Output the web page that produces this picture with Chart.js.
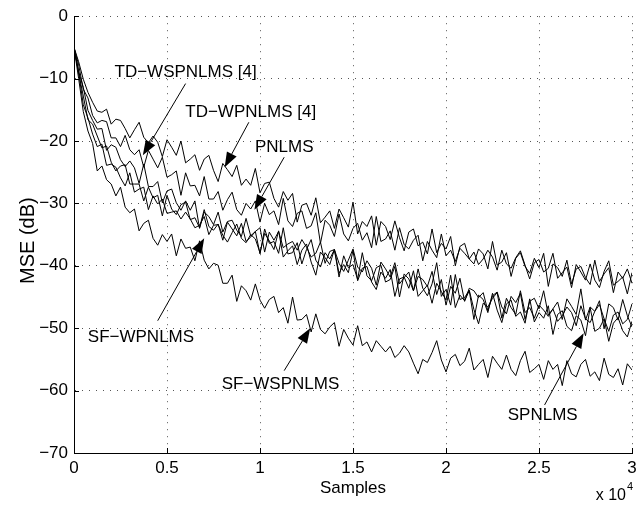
<!DOCTYPE html>
<html>
<head>
<meta charset="utf-8">
<script src="https://cdn.jsdelivr.net/npm/chart.js@4.4.1/dist/chart.umd.min.js"></script>
<style>
  html, body { margin: 0; padding: 0; background: #fff; }
  #wrap { width: 643px; height: 506px; }
</style>
</head>
<body>
<div id="wrap"><canvas id="mseChart" width="643" height="506"></canvas></div>
<script>
// Sample index (x axis)
const samples = [0,250,500,750,1000,1250,1500,1750,2000,2250,
  2500,2750,3000,3250,3500,3750,4000,4250,4500,4750,
  5000,5250,5500,5750,6000,6250,6500,6750,7000,7250,
  7500,7750,8000,8250,8500,8750,9000,9250,9500,9750,
  10000,10250,10500,10750,11000,11250,11500,11750,12000,12250,
  12500,12750,13000,13250,13500,13750,14000,14250,14500,14750,
  15000,15250,15500,15750,16000,16250,16500,16750,17000,17250,
  17500,17750,18000,18250,18500,18750,19000,19250,19500,19750,
  20000,20250,20500,20750,21000,21250,21500,21750,22000,22250,
  22500,22750,23000,23250,23500,23750,24000,24250,24500,24750,
  25000,25250,25500,25750,26000,26250,26500,26750,27000,27250,
  27500,27750,28000,28250,28500,28750,29000,29250,29500,29750,
  30000];

// MSE curves (dB)
const tdWpnlms = [-5.0,-7.3,-10.1,-12.2,-13.8,-15.2,-15.4,-14.9,-17.3,-16.5,
  -16.7,-18.0,-19.5,-18.2,-17.0,-19.4,-20.3,-19.2,-20.2,-22.5,
  -19.8,-21.0,-22.3,-20.0,-23.5,-22.9,-22.2,-24.7,-22.9,-22.3,
  -24.7,-26.5,-23.6,-24.6,-25.7,-23.9,-27.1,-26.1,-27.1,-24.4,
  -28.3,-26.8,-26.6,-29.2,-30.6,-28.1,-29.5,-28.4,-33.0,-30.3,
  -30.0,-31.9,-29.1,-33.1,-32.2,-31.2,-34.0,-30.9,-32.3,-33.8,
  -29.8,-34.9,-32.9,-33.7,-32.0,-36.7,-32.9,-33.7,-35.8,-32.8,
  -35.5,-37.6,-34.6,-34.1,-36.8,-36.2,-38.1,-34.1,-37.9,-36.4,
  -37.3,-35.3,-40.0,-36.9,-36.4,-38.9,-39.7,-37.3,-38.1,-40.5,
  -36.1,-39.9,-39.4,-37.9,-41.7,-38.8,-37.9,-40.1,-41.2,-38.8,
  -40.3,-38.0,-43.3,-39.7,-40.3,-41.7,-39.1,-42.9,-40.5,-40.1,
  -41.9,-43.0,-39.1,-42.5,-41.3,-40.3,-44.3,-41.0,-42.0,-40.5,
  -42.8];

const pnlms = [-5.0,-7.8,-11.7,-13.1,-15.9,-17.1,-16.7,-16.9,-19.5,-19.5,
  -20.9,-19.1,-21.4,-22.2,-21.4,-24.2,-21.5,-22.9,-24.3,-22.6,
  -25.8,-25.4,-24.8,-28.7,-25.1,-27.2,-27.1,-28.8,-25.7,-29.3,
  -29.3,-28.1,-31.1,-29.4,-28.2,-31.0,-31.9,-30.0,-30.9,-29.6,
  -33.0,-30.0,-31.8,-31.2,-33.4,-29.2,-32.8,-33.7,-31.6,-31.2,
  -34.0,-33.6,-31.5,-36.4,-32.7,-33.5,-35.3,-31.7,-34.9,-36.0,
  -34.0,-33.2,-35.9,-34.7,-37.1,-32.1,-36.1,-35.7,-34.4,-37.5,
  -33.9,-36.6,-37.3,-35.9,-35.1,-39.2,-36.1,-37.5,-38.7,-34.9,
  -38.4,-37.5,-39.3,-37.2,-38.0,-38.9,-37.8,-39.8,-38.9,-37.5,
  -38.6,-40.7,-37.5,-39.7,-40.4,-38.7,-37.6,-39.9,-42.1,-39.5,
  -39.0,-41.0,-40.4,-38.0,-42.0,-41.1,-40.2,-43.5,-39.8,-41.0,
  -42.3,-39.7,-42.3,-43.5,-40.9,-39.2,-43.1,-42.5,-41.8,-44.5,
  -41.1];

const tdWspnlms = [-5.0,-8.9,-11.4,-15.1,-16.7,-18.1,-18.0,-21.5,-20.6,-21.0,
  -23.0,-24.1,-23.2,-24.3,-26.8,-23.7,-27.3,-27.3,-26.5,-29.9,
  -28.0,-27.7,-29.9,-31.1,-29.6,-31.1,-29.6,-34.0,-31.4,-32.1,
  -33.4,-31.4,-34.6,-32.9,-32.7,-34.3,-35.3,-32.4,-35.2,-34.5,
  -33.9,-37.8,-34.6,-35.9,-34.5,-37.1,-36.5,-36.1,-37.5,-35.8,
  -37.0,-38.6,-38.0,-36.2,-39.6,-37.7,-37.4,-39.6,-40.9,-39.1,
  -37.3,-40.2,-41.0,-39.2,-40.4,-43.1,-39.4,-40.5,-41.8,-39.5,
  -42.9,-41.9,-41.0,-44.0,-41.7,-42.2,-43.3,-40.9,-44.6,-42.2,
  -46.3,-43.3,-44.4,-42.0,-45.7,-43.6,-44.0,-45.1,-44.3,-47.2,
  -44.8,-44.2,-46.6,-47.7,-44.9,-45.9,-44.4,-48.6,-45.7,-45.2,
  -46.9,-44.0,-47.9,-46.9,-45.8,-48.6,-45.3,-46.5,-47.8,-43.7,
  -48.7,-46.6,-47.3,-45.6,-50.1,-46.1,-46.7,-48.7,-45.4,-48.0,
  -49.8];

const spnlms = [-5.0,-9.1,-12.8,-16.6,-17.3,-19.2,-21.1,-20.8,-23.4,-24.8,
  -24.0,-23.8,-26.9,-26.9,-26.9,-29.6,-27.4,-29.1,-28.7,-32.0,
  -28.7,-30.9,-31.8,-30.2,-29.8,-32.6,-32.3,-33.9,-31.0,-33.7,
  -34.3,-33.3,-35.9,-33.0,-34.1,-35.2,-33.2,-36.1,-35.4,-34.5,
  -38.1,-34.1,-36.4,-36.1,-38.0,-33.9,-38.1,-37.9,-36.3,-39.7,
  -37.4,-35.8,-39.1,-40.2,-37.9,-38.9,-37.4,-41.8,-38.4,-40.3,
  -39.8,-42.2,-37.9,-41.6,-42.4,-40.3,-39.9,-42.6,-42.2,-40.1,
  -45.0,-41.3,-42.1,-44.0,-40.5,-43.6,-44.8,-42.9,-39.5,-44.9,
  -43.8,-46.3,-41.4,-45.4,-45.1,-43.9,-47.0,-49.3,-46.0,-46.6,
  -45.2,-44.3,-48.4,-45.2,-46.7,-47.8,-44.0,-47.5,-46.7,-48.4,
  -46.3,-47.1,-48.1,-46.9,-48.9,-48.0,-46.6,-47.5,-49.6,-46.4,
  -48.5,-49.1,-47.3,-46.2,-48.5,-50.5,-47.9,-47.4,-49.3,-48.6,
  -46.1];

const sfWpnlms = [-5.0,-9.0,-14.2,-16.3,-18.9,-20.9,-20.5,-23.9,-23.7,-24.2,
  -25.9,-27.2,-25.1,-28.2,-27.7,-27.4,-31.0,-28.8,-30.1,-29.3,
  -31.6,-31.4,-31.2,-32.5,-31.4,-32.5,-33.9,-33.5,-32.1,-35.0,
  -33.5,-33.4,-35.1,-36.2,-34.7,-33.3,-35.6,-36.3,-35.0,-35.7,
  -37.9,-34.8,-36.0,-37.4,-34.4,-38.6,-37.6,-36.8,-39.8,-37.5,
  -36.5,-39.4,-41.5,-37.8,-38.7,-39.8,-37.4,-41.2,-39.8,-41.1,
  -37.5,-42.4,-40.4,-40.1,-42.6,-43.8,-41.0,-42.0,-40.6,-44.9,
  -42.1,-41.8,-43.6,-40.8,-44.9,-44.0,-43.1,-46.0,-42.8,-44.1,
  -45.5,-41.5,-46.7,-44.7,-45.6,-44.0,-48.6,-44.7,-45.4,-47.5,
  -44.4,-47.1,-49.1,-46.1,-45.5,-48.1,-47.4,-49.2,-45.3,-49.0,
  -47.5,-48.4,-46.4,-51.0,-47.8,-47.2,-49.7,-50.4,-48.0,-48.7,
  -51.2,-46.7,-50.5,-50.0,-48.5,-52.1,-49.2,-48.3,-50.4,-51.4,
  -48.9];

const sfWspnlms = [-5.0,-10.0,-15.3,-18.4,-20.4,-24.8,-24.0,-26.2,-26.9,-28.8,
  -27.4,-30.6,-31.5,-30.9,-34.4,-33.2,-32.7,-35.6,-36.7,-35.0,
  -36.1,-34.9,-38.4,-35.7,-37.2,-37.0,-39.2,-36.0,-39.1,-40.5,
  -39.6,-39.9,-42.8,-42.8,-41.5,-45.7,-43.2,-44.0,-45.5,-42.9,
  -45.5,-46.8,-45.4,-44.9,-47.5,-46.7,-49.2,-45.0,-48.7,-48.6,
  -47.8,-50.6,-47.7,-50.2,-50.9,-49.8,-49.1,-52.9,-50.2,-51.6,
  -52.7,-49.6,-52.8,-52.2,-53.8,-52.0,-52.9,-53.8,-52.9,-54.7,
  -54.0,-52.8,-53.8,-55.6,-57.3,-55.0,-55.5,-53.9,-52.0,-55.1,
  -57.0,-54.8,-54.2,-56.0,-55.3,-53.2,-56.7,-55.8,-55.0,-57.9,
  -54.5,-55.6,-56.6,-54.3,-56.6,-57.6,-55.2,-53.7,-57.1,-56.5,
  -55.8,-58.2,-55.2,-56.6,-55.8,-59.2,-55.2,-57.3,-57.8,-55.8,
  -55.0,-57.7,-57.0,-58.4,-54.8,-57.4,-57.9,-56.5,-59.1,-55.7,
  -56.7];

// Tick values
const xTicks = [0, 5000, 10000, 15000, 20000, 25000, 30000];
const yTicks = [0, -10, -20, -30, -40, -50, -60, -70];

// Text labels with arrows, in data coordinates
const labels = [
  { text: 'TD\u2212WSPNLMS [4]', x: 6000, y: -9.0, tail: [6000, -10.8], tip: [3700, -22.3] },
  { text: 'TD\u2212WPNLMS [4]', x: 9500, y: -15.4, tail: [9400, -17.0], tip: [8100, -24.2] },
  { text: 'PNLMS', x: 11300, y: -21.0, tail: [11300, -22.6], tip: [9700, -31.0] },
  { text: 'SF\u2212WPNLMS', x: 3600, y: -51.5, tail: [4500, -48.8], tip: [7000, -35.6] },
  { text: 'SF\u2212WSPNLMS', x: 11100, y: -59.0, tail: [11300, -56.8], tip: [12700, -50.0] },
  { text: 'SPNLMS', x: 25200, y: -64.0, tail: [25300, -62.3], tip: [27400, -50.8] }
];

const FONT = '"Liberation Sans", Arial, Helvetica, sans-serif';

function toPoints(values) {
  return samples.map((s, i) => ({ x: s, y: values[i] }));
}

// MATLAB-like decorations: inward ticks, axis titles, arrows and labels
const decorPlugin = {
  id: 'decor',
  afterDraw(chart) {
    const { ctx, chartArea: area, scales } = chart;
    const xs = scales.x, ys = scales.y;
    ctx.save();
    ctx.strokeStyle = '#000';
    ctx.lineWidth = 1;

    // inward tick marks
    ctx.beginPath();
    xTicks.forEach(v => {
      const px = Math.round(xs.getPixelForValue(v)) + 0.5;
      ctx.moveTo(px, area.bottom);
      ctx.lineTo(px, area.bottom - 5);
    });
    yTicks.forEach(v => {
      const py = Math.round(ys.getPixelForValue(v)) + 0.5;
      ctx.moveTo(area.left, py);
      ctx.lineTo(area.left + 5, py);
    });
    ctx.stroke();

    // arrows and labels
    ctx.fillStyle = '#000';
    labels.forEach(l => {
      const x0 = xs.getPixelForValue(l.tail[0]), y0 = ys.getPixelForValue(l.tail[1]);
      const x1 = xs.getPixelForValue(l.tip[0]), y1 = ys.getPixelForValue(l.tip[1]);
      const ang = Math.atan2(y1 - y0, x1 - x0);
      const headLen = 15, headW = 5.5;
      const bx = x1 - headLen * Math.cos(ang), by = y1 - headLen * Math.sin(ang);
      ctx.beginPath();
      ctx.moveTo(x0, y0);
      ctx.lineTo(bx, by);
      ctx.stroke();
      ctx.beginPath();
      ctx.moveTo(x1, y1);
      ctx.lineTo(bx + headW * Math.sin(ang), by - headW * Math.cos(ang));
      ctx.lineTo(bx - headW * Math.sin(ang), by + headW * Math.cos(ang));
      ctx.closePath();
      ctx.fill();

      ctx.font = '17px ' + FONT;
      ctx.textAlign = 'center';
      ctx.textBaseline = 'middle';
      ctx.fillText(l.text, xs.getPixelForValue(l.x), ys.getPixelForValue(l.y));
    });

    // axis titles
    ctx.font = '17px ' + FONT;
    ctx.textAlign = 'center';
    ctx.textBaseline = 'alphabetic';
    ctx.fillText('Samples', (area.left + area.right) / 2, 493);

    ctx.save();
    ctx.font = '20px ' + FONT;
    ctx.translate(28, (area.top + area.bottom) / 2 + 6);
    ctx.rotate(-Math.PI / 2);
    ctx.textBaseline = 'middle';
    ctx.fillText('MSE (dB)', 0, 0);
    ctx.restore();

    ctx.font = '16px ' + FONT;
    ctx.textAlign = 'right';
    ctx.fillText('x 10', 626, 500);
    ctx.font = '11px ' + FONT;
    ctx.textAlign = 'left';
    ctx.fillText('4', 627, 490);
    ctx.restore();
  }
};

const seriesList = [tdWpnlms, pnlms, tdWspnlms, spnlms, sfWpnlms, sfWspnlms];

new Chart(document.getElementById('mseChart'), {
  type: 'line',
  data: {
    datasets: seriesList.map(values => ({
      data: toPoints(values),
      borderColor: '#000',
      borderWidth: 1,
      pointRadius: 0,
      tension: 0,
      fill: false
    }))
  },
  options: {
    responsive: false,
    animation: false,
    events: [],
    layout: { padding: { top: 13, right: 11, left: 0, bottom: 0 } },
    plugins: { legend: { display: false }, tooltip: { enabled: false } },
    scales: {
      x: {
        type: 'linear',
        min: 0,
        max: 30000,
        afterFit: s => { s.height = 53; },
        afterBuildTicks: s => { s.ticks = xTicks.map(v => ({ value: v })); },
        ticks: {
          padding: 5,
          color: '#000',
          font: { family: FONT, size: 17 },
          maxRotation: 0,
          callback: v => String(v / 10000)
        },
        grid: { color: '#555', lineWidth: 1, drawTicks: false },
        border: { display: true, color: '#000', width: 1, dash: [1, 6] }
      },
      y: {
        min: -70,
        max: 0,
        afterFit: s => { s.width = 74; },
        afterBuildTicks: s => { s.ticks = yTicks.map(v => ({ value: v })); },
        ticks: {
          padding: 6,
          color: '#000',
          font: { family: FONT, size: 17 },
          callback: v => String(v).replace('-', '\u2212')
        },
        grid: { color: '#555', lineWidth: 1, drawTicks: false },
        border: { display: true, color: '#000', width: 1, dash: [1, 6] }
      }
    }
  },
  plugins: [decorPlugin]
});
</script>
</body>
</html>
